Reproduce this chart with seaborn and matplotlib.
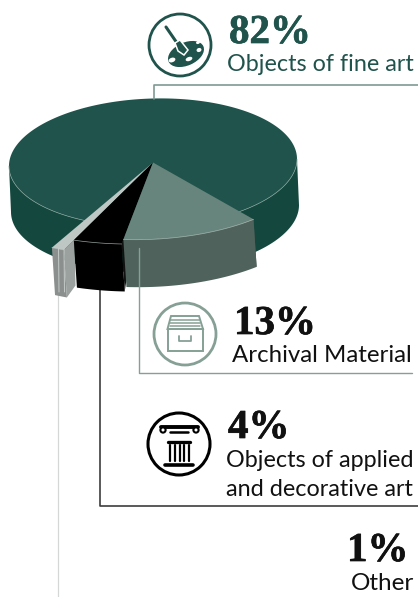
import numpy as np
import matplotlib
matplotlib.use('Agg')
import matplotlib.pyplot as plt
import matplotlib.patheffects as pe
from matplotlib.patches import Circle, Ellipse, Polygon, Rectangle
import seaborn as sns

# shares as printed on the chart
categories = ['Objects of fine art', 'Archival Material',
              'Objects of applied\nand decorative art', 'Other']
shares = [82, 13, 4, 1]
pct_labels = ['82%', '13%', '4%', '1%']

sns.set_theme(style='white')
plt.rcParams['font.family'] = ['Lato', 'DejaVu Sans']

top_colors = sns.color_palette(['#1f534b', '#67857c', '#000000', '#bfc7c5'])
side_colors = sns.color_palette(['#14483f', '#4f625c', '#000000', '#8b908e'])
cut_colors = sns.color_palette(['#14483f', '#3f504b', '#111111', '#9ba19f'])
text_colors = ['#1f534b', '#111111', '#111111', '#111111']
line_colors = ['#7f9a92', '#86a096', '#3d3d3d', '#d3d8d6']

# pie geometry, in pixels of the picture
CX, CY, RX, RY = 153, 162.5, 144, 64
SHEAR = 0.024
DEPTH = 46
START = 53          # where the archival slice starts
# the small slices are pulled out further, radius at start and end of each arc
radii = {1: (1.16, 1.21), 2: (1.28, 1.305), 3: (1.47, 1.47)}
span_boost = {2: 1.05}


def pt(t, r=1.0, drop=0.0, shift=2.0):
    t = np.radians(t)
    x = r * RX * np.cos(t)
    y = r * RY * np.sin(t)
    return np.column_stack([CX + x + shift * drop / DEPTH, CY + y - SHEAR * x + drop])


def draw_slice(ax, i, t0, t1):
    r0, r1 = radii[i]
    ts = np.linspace(t0, t1, 40)
    rs = np.linspace(r0, r1, 40)
    up = pt(ts, rs)
    down = pt(ts, rs, DEPTH + 1.5, shift=3)
    # radial cut face on the clockwise side of the wedge
    apex = np.array([[CX, CY]])
    inner = up[0] + (apex[0] - up[0]) * 0.12
    z = 3 - i * 0.1
    ax.add_patch(Polygon([up[0], inner, inner + [1, DEPTH], down[0]], fc=cut_colors[i], ec='none', zorder=z))
    ax.add_patch(Polygon(np.vstack([up, down[::-1]]), fc=side_colors[i], ec='none', zorder=z))
    ax.add_patch(Polygon(np.vstack([apex, up]), fc=top_colors[i], ec='none', zorder=z))
    ax.plot(up[:, 0], up[:, 1], color='#cfd6d3', lw=0.5, alpha=0.7, zorder=z + 0.01)


def leader(ax, xs, ys, color, lw=1.1, z=2):
    sns.lineplot(x=xs, y=ys, sort=False, estimator=None, color=color, lw=lw,
                 legend=False, ax=ax, zorder=z)


def palette_icon(ax, c):
    ax.add_patch(Circle((180, 45), 31, fc='white', ec=c, lw=2.0, zorder=5))
    ax.add_patch(Ellipse((186, 54), 38, 23, angle=-24, fc=c, ec='none', zorder=6))
    for x, y, w, h in [(172, 60, 7, 4.5), (189, 59, 7, 4), (199, 50, 5, 4), (198, 42.5, 4, 3)]:
        ax.add_patch(Ellipse((x, y), w, h, angle=-20, fc='white', ec='none', zorder=7))
    ax.plot([166, 177], [27, 43], color=c, lw=2.2, zorder=8, solid_capstyle='round')
    ax.add_patch(Polygon([[175, 43], [180, 40], [188, 50], [184, 55], [178, 51]], fc=c, ec='white', lw=1.1, zorder=8))


def archive_icon(ax, c):
    ax.add_patch(Circle((185, 334), 31, fc='white', ec=c, lw=2.0, zorder=5))
    ax.add_patch(Rectangle((167.5, 329), 35.5, 22, fc='white', ec=c, lw=1.4, zorder=6))
    ax.add_patch(Polygon([[171, 316], [199, 316], [203, 329], [167.5, 329]], fc='white', ec=c, lw=1.4, zorder=6))
    for y in [319.5, 323, 326]:
        ax.plot([170, 200], [y, y], color=c, lw=1.1, zorder=7)
    ax.plot([179, 179, 191, 191], [336, 341, 341, 336], color=c, lw=1.3, zorder=7)


def column_icon(ax, c):
    ax.add_patch(Circle((179, 444), 31, fc='white', ec=c, lw=2.2, zorder=5))
    ax.plot([161, 198], [426.5, 426.5], color=c, lw=2.8, zorder=6, solid_capstyle='round')
    ax.plot([170, 188], [431.5, 431.5], color=c, lw=1.8, zorder=6)
    ax.add_patch(Circle((163, 430), 2.6, fc='white', ec=c, lw=1.5, zorder=6))
    ax.add_patch(Circle((196, 430), 2.6, fc='white', ec=c, lw=1.5, zorder=6))
    ax.plot([168, 190], [442, 442], color=c, lw=2.4, zorder=6)
    for x in [170, 175, 179.5, 184, 189]:
        ax.plot([x, x], [445, 461], color=c, lw=1.6, zorder=6)
    ax.plot([165, 193], [465, 465], color=c, lw=2.6, zorder=6)


fig = plt.figure(figsize=(4.18, 5.97), dpi=100)
ax = fig.add_axes([0, 0, 1, 1])

# big slice: wall, top and the pale rim, the others sit on top of it
ts = np.linspace(0, 180, 181)
ax.add_patch(Polygon(np.vstack([pt(ts), pt(ts, drop=DEPTH)[::-1]]), fc=side_colors[0], ec='none', zorder=1))
ts = np.linspace(0, 360, 361)
ax.add_patch(Polygon(pt(ts), fc=top_colors[0], ec='none', zorder=1.1))

spans = [s * 3.6 * span_boost.get(i, 1) for i, s in enumerate(shares)]
t = START
edges = {}
for i in [1, 2, 3]:
    edges[i] = (t, t + spans[i])
    t += spans[i]
for a, b in [(0, START), (edges[3][1], 180)]:
    rim = pt(np.linspace(a, b, 60))
    ax.plot(rim[:, 0], rim[:, 1], color='#7f9f96', lw=0.5, zorder=1.2)

for i in [3, 2, 1]:
    draw_slice(ax, i, *edges[i])

# pale creases on the grey slice
for x in [58.5, 64]:
    ax.plot([x, x + 0.5], [248, 292], color='#c4cac8', lw=0.7, zorder=3)

leader(ax, [154, 154, 418], [99, 84.5, 84.5], line_colors[0], lw=1.2)
leader(ax, [139, 139, 412], [248, 373, 373], line_colors[1], lw=1.0, z=3.2)
leader(ax, [100, 100, 418], [289, 506, 506], line_colors[2], lw=1.2)
leader(ax, [58, 58], [292, 597], line_colors[3], lw=0.9)

palette_icon(ax, text_colors[0])
archive_icon(ax, line_colors[1])
column_icon(ax, '#000000')

pct_pos = [(229, 43), (234, 334), (228, 438), (347, 561)]
name_pos = [(227, 71), (232, 362), (226, 467), (351, 590)]
name_sizes = [16.8, 17.3, 16.8, 17.5]
for i in range(4):
    t = ax.text(pct_pos[i][0], pct_pos[i][1], pct_labels[i], family='Liberation Serif', weight='bold',
                fontsize=29.5, color=text_colors[i], ha='left', va='baseline')
    t.set_path_effects([pe.withStroke(linewidth=0.5, foreground=text_colors[i])])
    lines = categories[i].split('\n')
    for j, line in enumerate(lines):
        ax.text(name_pos[i][0], name_pos[i][1] + j * 29, line, fontsize=name_sizes[i],
                color=text_colors[i], ha='left', va='baseline')

ax.set_xlim(0, 418)
ax.set_ylim(597, 0)
ax.axis('off')

fig.savefig('out.png', dpi=100)
plt.close()
